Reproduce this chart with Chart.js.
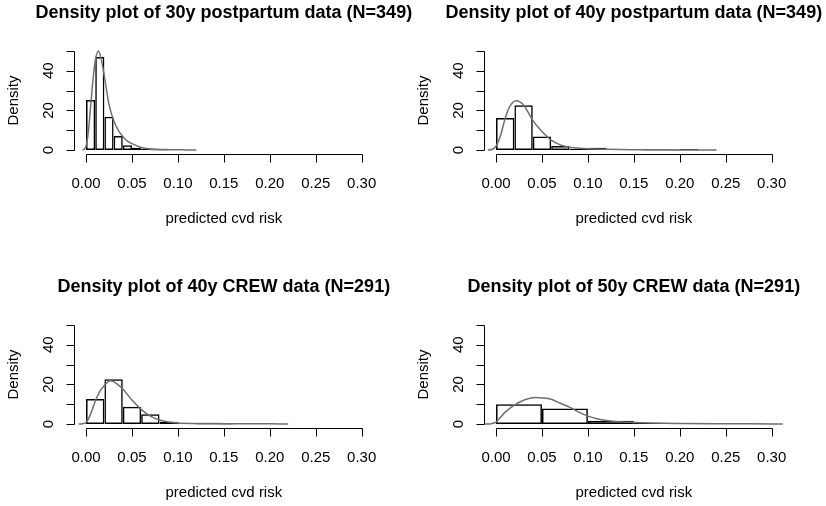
<!DOCTYPE html>
<html>
<head>
<meta charset="utf-8">
<title>Density plots</title>
<script src="https://cdn.jsdelivr.net/npm/chart.js@4/dist/chart.umd.min.js"></script>
<style>
  html, body { margin: 0; padding: 0; background: #fff; }
  body { width: 826px; height: 506px; overflow: hidden; position: relative; }
  canvas { position: absolute; }
</style>
</head>
<body>
<canvas id="p30" width="413" height="274" style="left:0;top:0"></canvas>
<canvas id="p40" width="413" height="274" style="left:413px;top:0"></canvas>
<canvas id="c40" width="413" height="274" style="left:0;top:274px"></canvas>
<canvas id="c50" width="413" height="274" style="left:413px;top:274px"></canvas>
<script>
// axis ticks (same on all four panels)
const xTicks      = [0, 0.05, 0.10, 0.15, 0.20, 0.25, 0.30];
const xTickLabels = ['0.00', '0.05', '0.10', '0.15', '0.20', '0.25', '0.30'];
const yTicks      = [0, 10, 20, 30, 40, 50];
const yTickLabels = ['0', '', '20', '', '40', ''];

// 30y postpartum, bins of 0.01
const mids30pp  = [0.005, 0.015, 0.025, 0.035, 0.045, 0.055, 0.065, 0.075, 0.085, 0.095];
const hist30pp  = [25.3, 47.0, 16.8, 7.1, 2.4, 1.1, 0.6, 0, 0, 0.3];
const densX30pp = [-0.004, -0.002, 0, 0.0025, 0.005, 0.0075, 0.01, 0.0134, 0.0165, 0.02, 0.025, 0.03, 0.035, 0.04, 0.045, 0.05, 0.06, 0.07, 0.08, 0.09, 0.1, 0.11, 0.12];
const densY30pp = [0, 0.4, 2, 9, 22, 35, 45, 50, 46, 37, 23, 15, 10, 6.8, 4.5, 3.2, 1.3, 0.6, 0.3, 0.2, 0.15, 0.05, 0];

// 40y postpartum, bins of 0.02
const mids40pp  = [0.01, 0.03, 0.05, 0.07, 0.09, 0.11, 0.13, 0.15, 0.17, 0.19, 0.21];
const hist40pp  = [16.2, 22.6, 6.8, 2.0, 0.6, 1.1, 0.15, 0.3, 0, 0, 0.15];
const densX40pp = [-0.009, -0.004, 0, 0.005, 0.01, 0.015, 0.022, 0.03, 0.035, 0.04, 0.05, 0.06, 0.07, 0.08, 0.09, 0.1, 0.12, 0.15, 0.18, 0.21, 0.24];
const densY40pp = [0, 0.4, 2, 7.5, 16, 22, 24.9, 22.7, 19, 15, 9.3, 5, 2.6, 1.4, 0.9, 0.6, 0.4, 0.2, 0.1, 0.05, 0];

// 40y CREW, bins of 0.02
const mids40cr  = [0.01, 0.03, 0.05, 0.07, 0.09, 0.11, 0.13, 0.15, 0.17, 0.19];
const hist40cr  = [12.6, 22.6, 8.7, 5.0, 1.2, 0.5, 0, 0, 0.17, 0.17];
const densX40cr = [-0.008, -0.004, 0, 0.005, 0.01, 0.015, 0.02, 0.026, 0.03, 0.035, 0.04, 0.05, 0.06, 0.07, 0.08, 0.09, 0.1, 0.12, 0.15, 0.2, 0.22];
const densY40cr = [0, 0.2, 0.8, 5, 11.5, 16.5, 19.5, 21.9, 21.4, 19.8, 17.7, 12.1, 7.4, 4, 2, 1, 0.5, 0.3, 0.2, 0.1, 0];

// 50y CREW, bins of 0.05
const mids50cr  = [0.025, 0.075, 0.125, 0.175, 0.225];
const hist50cr  = [10.0, 7.9, 1.7, 0.25, 0.1];
const densX50cr = [-0.012, -0.005, 0, 0.005, 0.01, 0.02, 0.03, 0.043, 0.05, 0.06, 0.07, 0.08, 0.09, 0.1, 0.11, 0.12, 0.13, 0.15, 0.17, 0.2, 0.25, 0.3, 0.32];
const densY50cr = [0, 0.2, 1, 3.5, 6, 9.5, 12, 13.4, 13.2, 12.5, 10.5, 8.5, 6, 4, 2.7, 1.8, 1.3, 0.8, 0.5, 0.3, 0.15, 0.05, 0];

const FONT = "'Liberation Sans', Arial, Helvetica, sans-serif";

// R base-graphics style axes, labels and title
const rAxes = {
  id: 'rAxes',
  afterDraw(chart, args, opts) {
    const { ctx, chartArea: a, scales: { x, y } } = chart;
    ctx.save();
    ctx.strokeStyle = '#000';
    ctx.fillStyle = '#000';
    ctx.lineWidth = 1;

    const xb = Math.round(a.bottom) + 0.5;
    const yl = Math.round(a.left) - 0.5;
    ctx.beginPath();
    ctx.moveTo(Math.round(x.getPixelForValue(xTicks[0])) + 0.5, xb);
    ctx.lineTo(Math.round(x.getPixelForValue(xTicks[xTicks.length - 1])) + 0.5, xb);
    xTicks.forEach(v => {
      const px = Math.round(x.getPixelForValue(v)) + 0.5;
      ctx.moveTo(px, xb);
      ctx.lineTo(px, xb + 8);
    });
    ctx.moveTo(yl, Math.round(y.getPixelForValue(yTicks[0])) + 0.5);
    ctx.lineTo(yl, Math.round(y.getPixelForValue(yTicks[yTicks.length - 1])) + 0.5);
    yTicks.forEach(v => {
      const py = Math.round(y.getPixelForValue(v)) + 0.5;
      ctx.moveTo(yl, py);
      ctx.lineTo(yl - 8, py);
    });
    ctx.stroke();

    ctx.font = `15px ${FONT}`;
    ctx.textAlign = 'center';
    ctx.textBaseline = 'alphabetic';
    xTicks.forEach((v, i) => ctx.fillText(xTickLabels[i], x.getPixelForValue(v), a.bottom + 34));
    yTicks.forEach((v, i) => {
      if (!yTickLabels[i]) return;
      ctx.save();
      ctx.translate(a.left - 22, y.getPixelForValue(v));
      ctx.rotate(-Math.PI / 2);
      ctx.fillText(yTickLabels[i], 0, 0);
      ctx.restore();
    });

    const cx = (a.left + a.right) / 2;
    const cy = (a.top + a.bottom) / 2;
    ctx.fillText('predicted cvd risk', cx, a.bottom + 69);
    ctx.save();
    ctx.translate(a.left - 57, cy);
    ctx.rotate(-Math.PI / 2);
    ctx.fillText('Density', 0, 0);
    ctx.restore();

    ctx.font = `bold 18px ${FONT}`;
    ctx.fillText(opts.title, cx, a.top - 29);
    ctx.restore();
  },
};

function makePanel(id, title, mids, heights, dx, dy, padLeft, padRight) {
  return new Chart(document.getElementById(id), {
    type: 'bar',
    data: {
      datasets: [
        {
          type: 'line',
          data: dx.map((v, i) => ({ x: v, y: dy[i] })),
          borderColor: '#6f6f6f',
          borderWidth: 1.5,
          pointRadius: 0,
          fill: false,
          cubicInterpolationMode: 'monotone',
          order: 0,
        },
        {
          data: mids.map((m, i) => ({ x: m, y: heights[i] })),
          backgroundColor: 'rgba(0,0,0,0)',
          borderColor: '#000',
          borderWidth: 1.5,
          borderSkipped: false,
          inflateAmount: 0,
          minBarLength: 1,
          barPercentage: 1,
          categoryPercentage: 1,
          order: 1,
        },
      ],
    },
    options: {
      responsive: false,
      animation: false,
      events: [],
      layout: { padding: { left: padLeft, right: padRight, top: 47, bottom: 120 } },
      plugins: {
        legend: { display: false },
        tooltip: { enabled: false },
        rAxes: { title },
      },
      scales: {
        x: { type: 'linear', min: -0.012, max: 0.312, offset: false, display: false },
        y: { type: 'linear', min: -2, max: 52, display: false },
      },
    },
    plugins: [rAxes],
  });
}

makePanel('p30', 'Density plot of 30y postpartum data (N=349)', mids30pp, hist30pp, densX30pp, densY30pp, 75, 40.3);
makePanel('p40', 'Density plot of 40y postpartum data (N=349)', mids40pp, hist40pp, densX40pp, densY40pp, 72, 43.3);
makePanel('c40', 'Density plot of 40y CREW data (N=291)', mids40cr, hist40cr, densX40cr, densY40cr, 75, 40.3);
makePanel('c50', 'Density plot of 50y CREW data (N=291)', mids50cr, hist50cr, densX50cr, densY50cr, 72, 43.3);
</script>
</body>
</html>
